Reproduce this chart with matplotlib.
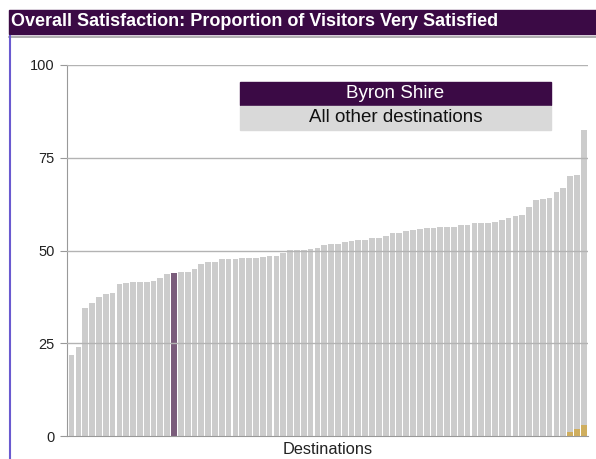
import matplotlib
matplotlib.use("Agg")
import matplotlib.pyplot as plt
from matplotlib.patches import Rectangle
from matplotlib.lines import Line2D
import numpy as np

plt.rcParams['font.family'] = ['Liberation Sans', 'DejaVu Sans']

# Proportion of visitors very satisfied, one value per destination (sorted)
very_satisfied = [
    21.8, 24.1, 34.6, 35.9, 37.5, 38.3, 38.5, 40.9, 41.2, 41.4,
    41.4, 41.4, 41.8, 42.5, 43.8, 44.0, 44.3, 44.3, 44.9, 46.4,
    47.0, 47.0, 47.6, 47.6, 47.6, 47.9, 47.9, 47.9, 48.2, 48.6,
    48.6, 49.2, 50.1, 50.1, 50.2, 50.3, 50.6, 51.5, 51.8, 51.8,
    52.2, 52.5, 52.8, 52.8, 53.5, 53.5, 53.8, 54.8, 54.8, 55.2,
    55.4, 55.8, 56.1, 56.1, 56.4, 56.4, 56.4, 57.0, 57.0, 57.3,
    57.3, 57.3, 57.7, 58.3, 58.7, 59.3, 59.7, 61.6, 63.5, 63.9,
    64.2, 65.9, 66.8, 70.1, 70.4, 82.5,
]
highlight_index = 15          # Byron Shire
# small secondary series at the last three destinations
secondary_index = [73, 74, 75]
secondary_values = [1.0, 2.0, 3.0]

y_ticks = [0, 25, 50, 75, 100]
title = "Overall Satisfaction: Proportion of Visitors Very Satisfied"
legend_labels = ["Byron Shire", "All other destinations"]
x_label = "Destinations"

W, H = 596, 459
DARK = "#3b0a45"
GREY_BAR = "#cccccc"
HILITE = "#7a5c7b"
GOLD = "#cfae5e"

fig = plt.figure(figsize=(W / 100, H / 100), dpi=100)

def fx(px):
    return px / W

def fy(py):
    return 1 - py / H

# header band
fig.patches.append(Rectangle((fx(9), fy(34)), fx(W - 9), 24 / H,
                             transform=fig.transFigure, color=DARK, zorder=0))
fig.text(fx(11), fy(21.5), title, color="white", fontsize=13.0,
         fontweight="bold", va="center", ha="left")
fig.add_artist(Line2D([fx(9), 1], [fy(36.5), fy(36.5)], transform=fig.transFigure,
                      color="#a0a0a0", lw=1.2))
fig.add_artist(Line2D([fx(9.5), fx(9.5)], [fy(36), 0], transform=fig.transFigure,
                      color="#6a5ad0", lw=1.5))

ax = fig.add_axes([fx(67), (H - 436) / H, fx(521), 371 / H])
x = np.arange(len(very_satisfied))
colors = [GREY_BAR] * len(very_satisfied)
colors[highlight_index] = HILITE
ax.bar(x, very_satisfied, width=0.84, color=colors, zorder=1)
ax.bar(secondary_index, secondary_values, width=0.84, color=GOLD, zorder=1.5)

ax.set_xlim(-0.67, len(very_satisfied) - 0.37)
ax.set_ylim(0, 100)
ax.set_yticks(y_ticks)
ax.set_yticklabels([str(t) for t in y_ticks], fontsize=10.5, color="#222222")
ax.set_xticks([])
# horizontal grid drawn over the bars
for t in y_ticks[1:]:
    ax.axhline(t, color="#b3b3b3", lw=1.0, zorder=3)
for side in ["top", "right"]:
    ax.spines[side].set_visible(False)
ax.spines["left"].set_color("#999999")
ax.spines["bottom"].set_color("#999999")
ax.tick_params(axis="y", length=5, color="#999999", pad=4)
ax.set_xlabel(x_label, fontsize=11.8, color="#222222", labelpad=4)

# legend blocks
fig.patches.append(Rectangle((fx(240), fy(105)), fx(311), 23.5 / H,
                             transform=fig.transFigure, color=DARK, zorder=5))
fig.patches.append(Rectangle((fx(240), fy(130)), fx(311), 24.5 / H,
                             transform=fig.transFigure, color="#d9d9d9", zorder=5))
fig.text(fx(395.5), fy(93.5), legend_labels[0], color="white", fontsize=13.5,
         ha="center", va="center", zorder=6)
fig.text(fx(395.5), fy(118), legend_labels[1], color="#111111", fontsize=13.5,
         ha="center", va="center", zorder=6)

fig.savefig("out.png", dpi=100)
